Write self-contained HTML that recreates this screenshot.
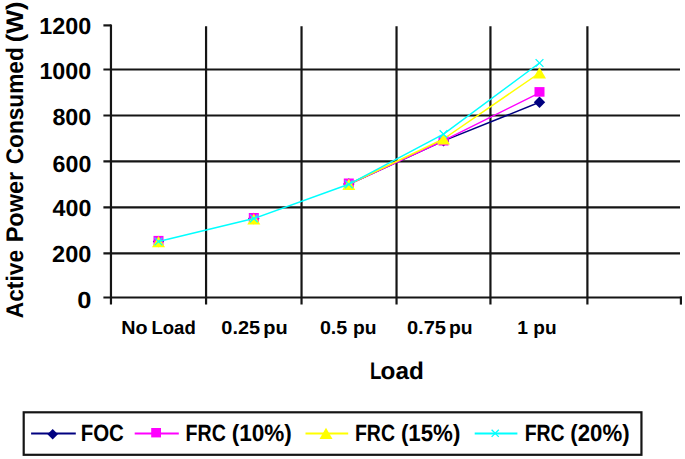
<!DOCTYPE html>
<html><head><meta charset="utf-8"><style>
html,body{margin:0;padding:0;background:#fff;}
body{width:685px;height:459px;overflow:hidden;}
svg{display:block;}
text{font-family:"Liberation Sans", sans-serif;font-weight:bold;text-rendering:geometricPrecision;}
</style></head><body>
<svg width="685" height="459" viewBox="0 0 685 459">
<rect width="685" height="459" fill="#fff"/>
<g stroke="#151515" stroke-width="2.2" fill="none"><line x1="103.4" y1="69.50" x2="680.0" y2="69.50"/><line x1="103.4" y1="115.50" x2="680.0" y2="115.50"/><line x1="103.4" y1="161.40" x2="680.0" y2="161.40"/><line x1="103.4" y1="207.40" x2="680.0" y2="207.40"/><line x1="103.4" y1="253.30" x2="680.0" y2="253.30"/><line x1="103.4" y1="297.50" x2="681.90" y2="297.50"/><line x1="103.4" y1="25.40" x2="110.96" y2="25.40"/><line x1="110.96" y1="24.40" x2="110.96" y2="304.6"/><line x1="206.07" y1="26.3" x2="206.07" y2="304.6"/><line x1="301.54" y1="26.3" x2="301.54" y2="304.6"/><line x1="396.54" y1="26.3" x2="396.54" y2="304.6"/><line x1="490.44" y1="26.3" x2="490.44" y2="304.6"/><line x1="587.40" y1="26.3" x2="587.40" y2="304.6"/><line x1="680.90" y1="296.50" x2="680.90" y2="304.6"/></g>
<polyline points="348.80,184.30 443.50,140.90 539.50,102.30" fill="none" stroke="#000080" stroke-width="1.5" stroke-linejoin="round"/><path d="M158.50 235.80 L164.20 241.50 L158.50 247.20 L152.80 241.50Z" fill="#000080"/><path d="M253.80 212.80 L259.50 218.50 L253.80 224.20 L248.10 218.50Z" fill="#000080"/><path d="M348.80 178.30 L354.50 184.00 L348.80 189.70 L343.10 184.00Z" fill="#000080"/><path d="M443.50 135.20 L449.20 140.90 L443.50 146.60 L437.80 140.90Z" fill="#000080"/><path d="M539.50 96.60 L545.20 102.30 L539.50 108.00 L533.80 102.30Z" fill="#000080"/><polyline points="348.80,184.30 443.50,140.70 539.50,92.80" fill="none" stroke="#FF00FF" stroke-width="1.5" stroke-linejoin="round"/><rect x="153.50" y="235.90" width="10.00" height="9.60" fill="#FF00FF"/><rect x="248.80" y="213.00" width="10.00" height="9.60" fill="#FF00FF"/><rect x="343.80" y="178.50" width="10.00" height="9.60" fill="#FF00FF"/><rect x="438.50" y="135.90" width="10.00" height="9.60" fill="#FF00FF"/><rect x="534.50" y="87.10" width="10.00" height="9.60" fill="#FF00FF"/><polyline points="348.80,184.30 443.50,139.00 539.50,73.00" fill="none" stroke="#FFFF00" stroke-width="1.5" stroke-linejoin="round"/><path d="M158.50 236.00 L165.00 247.20 L152.00 247.20Z" fill="#FFFF00"/><path d="M253.80 213.40 L260.30 224.60 L247.30 224.60Z" fill="#FFFF00"/><path d="M348.80 178.80 L355.30 190.00 L342.30 190.00Z" fill="#FFFF00"/><path d="M443.50 133.40 L450.00 144.60 L437.00 144.60Z" fill="#FFFF00"/><path d="M539.50 67.20 L546.00 78.40 L533.00 78.40Z" fill="#FFFF00"/><polyline points="158.50,241.50 253.80,218.50 348.80,184.30 443.50,134.20 539.50,63.00" fill="none" stroke="#00FFFF" stroke-width="1.5" stroke-linejoin="round"/><path d="M154.60 237.60 L162.40 245.40 M162.40 237.60 L154.60 245.40" stroke="#00FFFF" stroke-width="1.3" fill="none"/><path d="M249.90 214.60 L257.70 222.40 M257.70 214.60 L249.90 222.40" stroke="#00FFFF" stroke-width="1.3" fill="none"/><path d="M344.90 180.40 L352.70 188.20 M352.70 180.40 L344.90 188.20" stroke="#00FFFF" stroke-width="1.3" fill="none"/><path d="M439.60 130.30 L447.40 138.10 M447.40 130.30 L439.60 138.10" stroke="#00FFFF" stroke-width="1.3" fill="none"/><path d="M535.60 59.10 L543.40 66.90 M543.40 59.10 L535.60 66.90" stroke="#00FFFF" stroke-width="1.3" fill="none"/>
<g font-family="'Liberation Sans', sans-serif" font-weight="bold" fill="#000">
<text transform="translate(39.28,34.40) scale(1.0064,1)" font-size="23.20" >1200</text><text transform="translate(39.39,78.90) scale(1.0044,1)" font-size="23.20" >1000</text><text transform="translate(52.40,124.55) scale(1.0053,1)" font-size="23.20" >800</text><text transform="translate(52.59,171.85) scale(1.0003,1)" font-size="23.20" >600</text><text transform="translate(52.55,216.30) scale(1.0013,1)" font-size="23.20" >400</text><text transform="translate(52.08,262.30) scale(1.0139,1)" font-size="23.20" >200</text><text transform="translate(77.18,308.10) scale(1.0980,1)" font-size="23.20" >0</text><text transform="translate(121.22,334.20) scale(1.0508,1)" font-size="18.80" >No</text><text transform="translate(151.49,334.20) scale(0.9862,1)" font-size="18.80" >Load</text><text transform="translate(221.30,334.20) scale(1.0610,1)" font-size="18.80" >0.25</text><text transform="translate(263.20,334.20) scale(1.0638,1)" font-size="18.80" >pu</text><text transform="translate(319.91,334.20) scale(1.0478,1)" font-size="18.80" >0.5</text><text transform="translate(353.05,334.20) scale(1.0248,1)" font-size="18.80" >pu</text><text transform="translate(406.90,334.20) scale(1.0695,1)" font-size="18.80" >0.75</text><text transform="translate(448.94,334.20) scale(1.0297,1)" font-size="18.80" >pu</text><text transform="translate(517.14,334.20) scale(1.0295,1)" font-size="18.80" >1</text><text transform="translate(533.26,334.20) scale(1.0150,1)" font-size="18.80" >pu</text><text transform="translate(369.89,378.90) scale(0.7767,1)" font-size="24.00" >L</text><text transform="translate(380.53,378.90) scale(1.0130,1)" font-size="24.00" >oad</text><text transform="translate(23.00,318.17) rotate(-90) scale(0.9467,1)" font-size="24.00">Active</text><text transform="translate(23.00,242.33) rotate(-90) scale(0.9803,1)" font-size="24.00">Power</text><text transform="translate(23.00,164.31) rotate(-90) scale(0.9437,1)" font-size="24.00">Consumed</text><text transform="translate(23.00,42.26) rotate(-90) scale(1.0513,1)" font-size="24.00">(W)</text><text transform="translate(80.67,440.90) scale(0.8684,1)" font-size="23.60" >FOC</text><text transform="translate(185.62,440.90) scale(0.8324,1)" font-size="23.60" >FRC</text><text transform="translate(231.67,440.90) scale(0.9546,1)" font-size="23.60" >(10%)</text><text transform="translate(354.93,440.90) scale(0.8259,1)" font-size="23.60" >FRC</text><text transform="translate(400.89,440.90) scale(0.9447,1)" font-size="23.60" >(15%)</text><text transform="translate(524.63,440.90) scale(0.8259,1)" font-size="23.60" >FRC</text><text transform="translate(570.29,440.90) scale(0.9414,1)" font-size="23.60" >(20%)</text>
</g>
<rect x="23.7" y="412.3" width="617.75" height="42.50" fill="none" stroke="#151515" stroke-width="2.2"/><line x1="31.1" y1="433.5" x2="75.8" y2="433.5" stroke="#000080" stroke-width="1.8"/><path d="M52.70 429.06 L57.94 434.30 L52.70 439.54 L47.46 434.30Z" fill="#000080"/><line x1="134.7" y1="433.5" x2="178.8" y2="433.5" stroke="#FF00FF" stroke-width="1.8"/><rect x="151.20" y="428.00" width="9.80" height="9.41" fill="#FF00FF"/><line x1="305.5" y1="433.5" x2="348.2" y2="433.5" stroke="#FFFF00" stroke-width="1.8"/><path d="M326.00 427.80 L332.50 439.00 L319.50 439.00Z" fill="#FFFF00"/><line x1="474.7" y1="433.5" x2="517.4" y2="433.5" stroke="#00FFFF" stroke-width="1.8"/><path d="M491.61 429.71 L498.79 436.89 M498.79 429.71 L491.61 436.89" stroke="#00FFFF" stroke-width="1.3" fill="none"/>
</svg>
</body></html>
